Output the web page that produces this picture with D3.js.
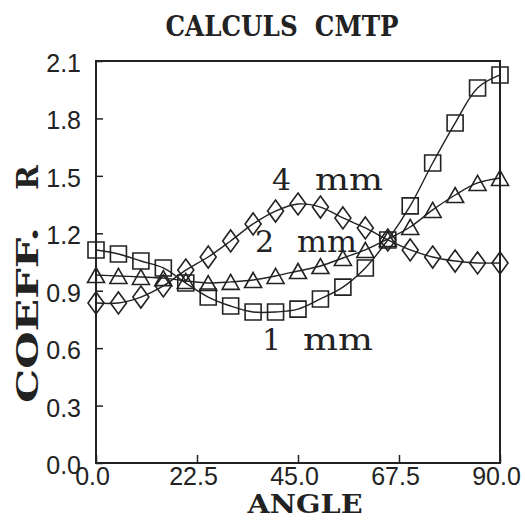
<!DOCTYPE html>
<html><head><meta charset="utf-8">
<script src="https://cdn.jsdelivr.net/npm/d3@7/dist/d3.min.js"></script>
<style>
html,body{margin:0;padding:0;background:#fff;}
svg{display:block;}
text{white-space:pre;}
</style></head>
<body>
<script>
const angles = [0,5,10,15,20,25,30,35,40,45,50,55,60,65,70,75,80,85,90];
const r1mm = [1.113,1.092,1.055,1.019,0.940,0.867,0.820,0.789,0.789,0.804,0.857,0.919,1.019,1.165,1.343,1.567,1.776,1.959,2.027];
const r2mm = [0.982,0.977,0.972,0.966,0.951,0.940,0.946,0.956,0.977,1.003,1.029,1.071,1.113,1.170,1.233,1.322,1.400,1.463,1.489];
const r4mm = [0.836,0.836,0.867,0.925,1.008,1.076,1.160,1.249,1.316,1.353,1.337,1.280,1.228,1.165,1.113,1.076,1.055,1.045,1.045];
const xTicks = [0,22.5,45,67.5,90];
const yTicks = [0,0.3,0.6,0.9,1.2,1.5,1.8,2.1];
const labelNums = ["4","2","1"];
const labelUnit = "mm";
const labelAngles = [39.2,35.4,37.0];
const labelValues = [1.426,1.102,0.590];

const W=525,H=520;
const m={left:96,right:25,top:61,bottom:57};
const svg=d3.select("body").append("svg").attr("width",W).attr("height",H);
const x=d3.scaleLinear().domain([0,90]).range([m.left,W-m.right]);
const y=d3.scaleLinear().domain([0,2.1]).range([H-m.bottom,m.top]);
const ink="#222";

// axes
const gx=svg.append("g").attr("transform",`translate(0,${y(0)})`)
  .call(d3.axisBottom(x).tickValues(xTicks).tickFormat(d3.format(".1f")).tickSize(-8).tickPadding(4));
gx.select(".domain").remove();
gx.selectAll("line").attr("stroke",ink).attr("stroke-width",1.5);
gx.selectAll("text").attr("dx",-4).attr("font-family","Liberation Sans, Arial, sans-serif").attr("font-size",25).attr("fill",ink);

const gy=svg.append("g").attr("transform",`translate(${x(0)},0)`)
  .call(d3.axisLeft(y).tickValues(yTicks).tickFormat(d3.format(".1f")).tickSize(-7).tickPadding(15));
gy.select(".domain").remove();
gy.selectAll("line").attr("stroke",ink).attr("stroke-width",1.5);
gy.selectAll("text").attr("dy","0.42em").attr("font-family","Liberation Sans, Arial, sans-serif").attr("font-size",25).attr("fill",ink);

// frame
svg.append("rect").attr("x",x(0)).attr("y",y(2.1)).attr("width",x(90)-x(0)).attr("height",y(0)-y(2.1))
  .attr("fill","none").attr("stroke",ink).attr("stroke-width",2);

// series
const line=d3.line().x(d=>x(d[0])).y(d=>y(d[1])).curve(d3.curveCatmullRom);
const shapes={
  square:`M-8,-8h16v16h-16Z`,
  triangle:`M0,-7.5L8.5,7.5L-8.5,7.5Z`,
  diamond:`M0,-11L8,0L0,11L-8,0Z`
};
const series=[
  {vals:r1mm,shape:"square"},
  {vals:r2mm,shape:"triangle"},
  {vals:r4mm,shape:"diamond"}
];
series.forEach(s=>{
  const pts=angles.map((a,i)=>[a,s.vals[i]]);
  svg.append("path").attr("d",line(pts)).attr("fill","none").attr("stroke",ink).attr("stroke-width",1.4);
  svg.append("g").selectAll("path").data(pts).join("path")
    .attr("transform",d=>`translate(${x(d[0])},${y(d[1])})`)
    .attr("d",shapes[s.shape])
    .attr("fill","none").attr("stroke",ink).attr("stroke-width",1.6);
});

// series labels
const unitOffset=[43,42,41], unitLen=[68,60,70];
labelNums.forEach((n,i)=>{
  const lx=x(labelAngles[i]), ly=y(labelValues[i]);
  svg.append("text").attr("x",lx).attr("y",ly)
    .attr("font-family","DejaVu Serif, serif").attr("font-size",30).attr("fill",ink).text(n);
  svg.append("text").attr("x",lx+unitOffset[i]).attr("y",ly)
    .attr("font-family","DejaVu Serif, serif").attr("font-size",30).attr("fill",ink)
    .attr("textLength",unitLen[i]).attr("lengthAdjust","spacingAndGlyphs").text(labelUnit);
});

// titles
svg.append("text").attr("x",282).attr("y",36).attr("text-anchor","middle")
  .attr("font-family","DejaVu Serif, serif").attr("font-weight","bold").attr("font-size",27).attr("fill",ink)
  .attr("textLength",233).attr("lengthAdjust","spacingAndGlyphs").text("CALCULS  CMTP");
svg.append("text").attr("x",305).attr("y",513).attr("text-anchor","middle")
  .attr("font-family","DejaVu Serif, serif").attr("font-weight","bold").attr("font-size",26).attr("fill",ink)
  .attr("textLength",115).attr("lengthAdjust","spacingAndGlyphs").text("ANGLE");
svg.append("text").attr("transform","translate(38,403) rotate(-90)").attr("text-anchor","start")
  .attr("font-family","DejaVu Serif, serif").attr("font-weight","bold").attr("font-size",30).attr("fill",ink)
  .attr("textLength",176).attr("lengthAdjust","spacingAndGlyphs").text("COEFF.");
svg.append("text").attr("transform","translate(38,165) rotate(-90)").attr("text-anchor","end")
  .attr("font-family","DejaVu Serif, serif").attr("font-weight","bold").attr("font-size",30).attr("fill",ink)
  .text("R");
</script>
</body></html>
